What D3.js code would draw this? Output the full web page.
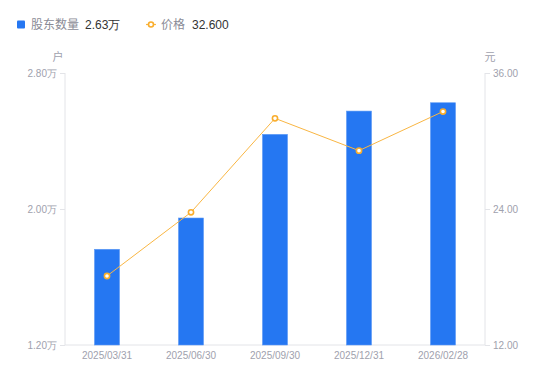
<!DOCTYPE html>
<html><head><meta charset="utf-8">
<script src="https://cdn.jsdelivr.net/npm/d3@7"></script>
<style>body{margin:0;background:#fff}svg{display:block;font-family:"Noto Sans CJK SC","Noto Sans",sans-serif}</style>
</head><body><svg id="c" width="550" height="381"></svg>
<script>
const categories = ["2025/03/31","2025/06/30","2025/09/30","2025/12/31","2026/02/28"];
const holders = [1.763, 1.947, 2.439, 2.576, 2.625];
const prices = [18.09, 23.71, 32.0, 29.15, 32.6];
const leftTicks = [1.2, 2.0, 2.8];
const rightTicks = [12, 24, 36];

const svg = d3.select("#c");
const L = 65, R = 485, T = 73, B = 345;
const x = d3.scaleBand().domain(categories).range([L, R]);
const yL = d3.scaleLinear().domain([1.2, 2.8]).range([B, T]);
const yR = d3.scaleLinear().domain([12, 36]).range([B, T]);
const axisColor = "#e3e4e8", tickText = "#a0a1ad";
const numFont = "'Liberation Sans', Arial, sans-serif";

svg.append("line").attr("x1", L).attr("x2", L).attr("y1", T).attr("y2", B).attr("stroke", axisColor);
svg.append("line").attr("x1", R).attr("x2", R).attr("y1", T).attr("y2", B).attr("stroke", axisColor);
svg.append("line").attr("x1", L).attr("x2", R).attr("y1", B).attr("y2", B).attr("stroke", axisColor);

const gl = svg.append("g").attr("transform", `translate(${L},0)`)
  .call(d3.axisLeft(yL).tickValues(leftTicks).tickFormat(d => d3.format(".2f")(d) + "万").tickSize(5).tickPadding(3));
const gr = svg.append("g").attr("transform", `translate(${R},0)`)
  .call(d3.axisRight(yR).tickValues(rightTicks).tickFormat(d3.format(".2f")).tickSize(5).tickPadding(3));
const gb = svg.append("g").attr("transform", `translate(0,${B})`)
  .call(d3.axisBottom(x).tickSize(0).tickPadding(7));
[gl, gr, gb].forEach(g => {
  g.select(".domain").remove();
  g.selectAll(".tick line").attr("stroke", axisColor);
  g.selectAll("text").attr("fill", tickText).attr("font-size", 10).attr("font-family", numFont);
});

svg.append("text").attr("x", 58).attr("y", 61).attr("text-anchor", "middle").attr("fill", tickText).attr("font-size", 11).text("户");
svg.append("text").attr("x", 490).attr("y", 61).attr("text-anchor", "middle").attr("fill", tickText).attr("font-size", 11).text("元");

const bw = 25;
svg.append("g").selectAll("rect").data(holders).join("rect")
  .attr("x", (d, i) => x(categories[i]) + x.bandwidth() / 2 - bw / 2)
  .attr("y", d => yL(d)).attr("width", bw).attr("height", d => B - yL(d))
  .attr("fill", "#2577f2").attr("stroke", "#5b98f5").attr("stroke-width", 0.6);

const cx = i => x(categories[i]) + x.bandwidth() / 2;
svg.append("path").datum(prices)
  .attr("d", d3.line().x((d, i) => cx(i)).y(d => yR(d)))
  .attr("fill", "none").attr("stroke", "#f9b643").attr("stroke-width", 1);
svg.append("g").selectAll("circle").data(prices).join("circle")
  .attr("cx", (d, i) => cx(i)).attr("cy", d => yR(d)).attr("r", 2.6)
  .attr("fill", "#fff").attr("stroke", "#f9ad2c").attr("stroke-width", 1.6);

const lg = svg.append("g");
lg.append("rect").attr("x", 17).attr("y", 20.5).attr("width", 8).attr("height", 8).attr("rx", 1).attr("fill", "#2577f2");
lg.append("text").attr("x", 31).attr("y", 29).attr("font-size", 12).attr("fill", "#8a8b96").text("股东数量");
lg.append("text").attr("x", 85).attr("y", 29).attr("font-size", 12).attr("fill", "#333").attr("font-family", numFont).text("2.63万");
lg.append("line").attr("x1", 146).attr("x2", 156).attr("y1", 24.5).attr("y2", 24.5).attr("stroke", "#f9b643").attr("stroke-width", 1.2);
lg.append("circle").attr("cx", 151).attr("cy", 24.5).attr("r", 2.5).attr("fill", "#fff").attr("stroke", "#f9ad2c").attr("stroke-width", 1.6);
lg.append("text").attr("x", 161).attr("y", 29).attr("font-size", 12).attr("fill", "#8a8b96").text("价格");
lg.append("text").attr("x", 192).attr("y", 29).attr("font-size", 12).attr("fill", "#333").attr("font-family", numFont).text(d3.format(".3f")(prices[4]));
</script></body></html>
